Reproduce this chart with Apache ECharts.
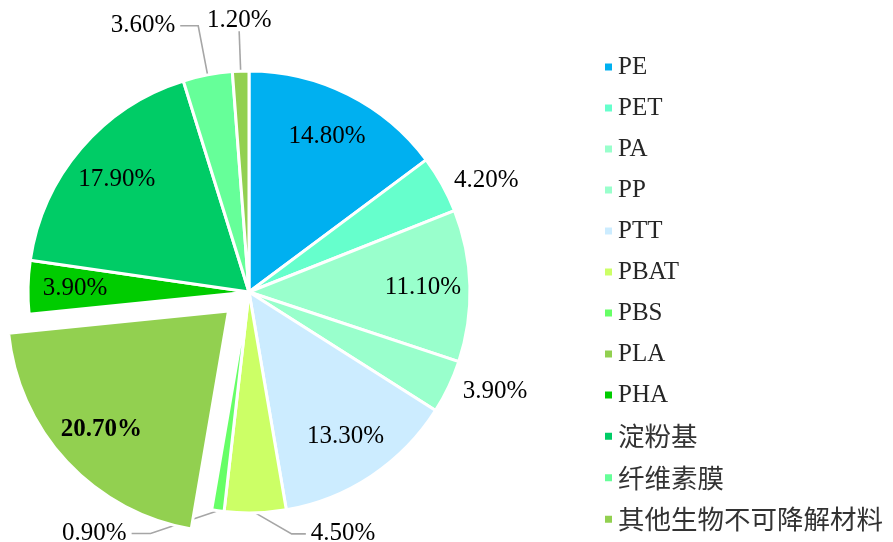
<!DOCTYPE html>
<html>
<head>
<meta charset="utf-8">
<script src="https://cdn.jsdelivr.net/npm/echarts@6/dist/echarts.min.js"></script>
<style>
  html, body { margin: 0; padding: 0; background: #ffffff; }
  #chart { width: 893px; height: 542px; }
</style>
</head>
<body>
<div id="chart"></div>
<script>
// Material categories, clockwise from 12 o'clock
const materials = ['PE', 'PET', 'PA', 'PP', 'PTT', 'PBAT', 'PBS', 'PLA', 'PHA', '淀粉基', '纤维素膜', '其他生物不可降解材料'];
// Share of each material, in percent
const shares = [14.8, 4.2, 11.1, 3.9, 13.3, 4.5, 0.9, 20.7, 3.9, 17.9, 3.6, 1.2];
// Slice colours
const sliceColors = ['#00B0F0', '#66FFCC', '#99FFCC', '#99FFCC', '#CCECFF', '#CCFF66', '#66FF66', '#92D050', '#00CC00', '#00CC66', '#66FF99', '#92D050'];
// Slices whose value is printed on the slice itself
const insideLabelled = ['PE', 'PA', 'PTT', 'PLA', 'PHA', '淀粉基'];
// Slice pulled out of the pie
const explodedSlice = 'PLA';

const FONT = '"Liberation Serif", "Times New Roman", "Noto Sans CJK SC", serif';

// Leader-line geometry for the labels placed outside the pie.
// bend: how far the elbow slides toward the label (0 = radial elbow, 1 = straight line)
// above: label sits centred on top of a straight radial leader
const outsideLeaders = {
  'PET': { show: false, length: 8, length2: 0 },
  'PP': { show: false, length: 10, length2: 0 },
  'PBAT': { show: true, length: 21, length2: 50, bend: 0.72 },
  'PBS': { show: true, length: 23, length2: 83, bend: 0.78 },
  '纤维素膜': { show: true, length: 50, length2: 18 },
  '其他生物不可降解材料': { show: true, length: 40, length2: 0, above: true }
};

const fmt = v => v.toFixed(2) + '%';
const PIE_CENTER = [249, 292];
const PIE_R = 221;
const EXPLODE = 28;

// Base slices with outside labels
const sliceData = materials.map((name, i) => {
  const lead = outsideLeaders[name];
  const item = {
    name,
    value: shares[i],
    selected: name === explodedSlice,
    itemStyle: { color: sliceColors[i] },
    select: { itemStyle: { color: sliceColors[i] } },
    label: { show: !!lead },
    labelLine: { show: false }
  };
  if (lead) {
    item.labelLine = {
      show: lead.show,
      length: lead.length,
      length2: lead.length2,
      smooth: false,
      lineStyle: { color: '#A6A6A6', width: 1.6 }
    };
  }
  return item;
});

// Transparent ring carrying the on-slice labels at ~3/4 of the radius
const ringData = materials.map((name, i) => ({
  name,
  value: shares[i],
  selected: name === explodedSlice,
  label: {
    show: insideLabelled.includes(name),
    fontWeight: name === explodedSlice ? 'bold' : 'normal'
  }
}));

// Reshape leader lines: slanted elbows, or a label perched on its leader's tip
function leaderLayout(params) {
  if (params.seriesIndex !== 0) return {};
  const lead = outsideLeaders[materials[params.dataIndex]];
  const pts = params.labelLinePoints;
  if (!lead || !pts || pts.length < 3) return { hideOverlap: false };
  if (lead.above) {
    const tip = pts[1];
    return {
      x: tip[0],
      y: tip[1] + 2,
      align: 'center',
      verticalAlign: 'bottom',
      hideOverlap: false,
      labelLinePoints: [pts[0], tip, tip]
    };
  }
  if (lead.bend) {
    const p0 = pts[0], p2 = pts[2];
    const mid = [p0[0] + (p2[0] - p0[0]) * lead.bend, pts[1][1]];
    return { hideOverlap: false, labelLinePoints: [p0, mid, p2] };
  }
  return { hideOverlap: false };
}

// Chinese legend entries use a slightly larger CJK face
const hasCJK = s => /[\u4e00-\u9fff]/.test(s);

const chart = echarts.init(document.getElementById('chart'), null, { renderer: 'canvas' });
chart.setOption({
  animation: false,
  backgroundColor: '#ffffff',
  legend: {
    orient: 'vertical',
    left: 598,
    top: 49,
    icon: 'rect',
    itemWidth: 9,
    itemHeight: 9,
    itemGap: 15,
    data: materials,
    selectedMode: false,
    formatter: name => hasCJK(name) ? '{cjk|' + name + '}' : name,
    textStyle: {
      fontFamily: FONT,
      fontSize: 25,
      lineHeight: 26,
      color: '#262626',
      rich: {
        cjk: { fontFamily: '"Noto Sans CJK SC", sans-serif', fontSize: 26.5, lineHeight: 26, color: '#333333' }
      }
    }
  },
  series: [
    {
      type: 'pie',
      center: PIE_CENTER,
      radius: [0, PIE_R],
      startAngle: 90,
      clockwise: true,
      sort: false,
      avoidLabelOverlap: false,
      selectedMode: 'single',
      selectedOffset: EXPLODE,
      itemStyle: { borderColor: '#ffffff', borderWidth: 3 },
      emphasis: { disabled: true },
      label: {
        position: 'outside',
        formatter: p => fmt(p.value),
        fontFamily: FONT,
        fontSize: 25,
        color: '#000000'
      },
      labelLayout: leaderLayout,
      data: sliceData
    },
    {
      type: 'pie',
      silent: true,
      center: PIE_CENTER,
      radius: [PIE_R - 100, PIE_R],
      startAngle: 90,
      clockwise: true,
      sort: false,
      avoidLabelOverlap: false,
      selectedMode: 'single',
      selectedOffset: EXPLODE,
      itemStyle: { color: 'rgba(0,0,0,0)', borderWidth: 0 },
      select: { itemStyle: { color: 'rgba(0,0,0,0)', borderWidth: 0 } },
      emphasis: { disabled: true },
      labelLine: { show: false },
      label: {
        position: 'inside',
        formatter: p => fmt(p.value),
        fontFamily: FONT,
        fontSize: 25,
        color: '#000000'
      },
      data: ringData
    }
  ]
});
</script>
</body>
</html>
